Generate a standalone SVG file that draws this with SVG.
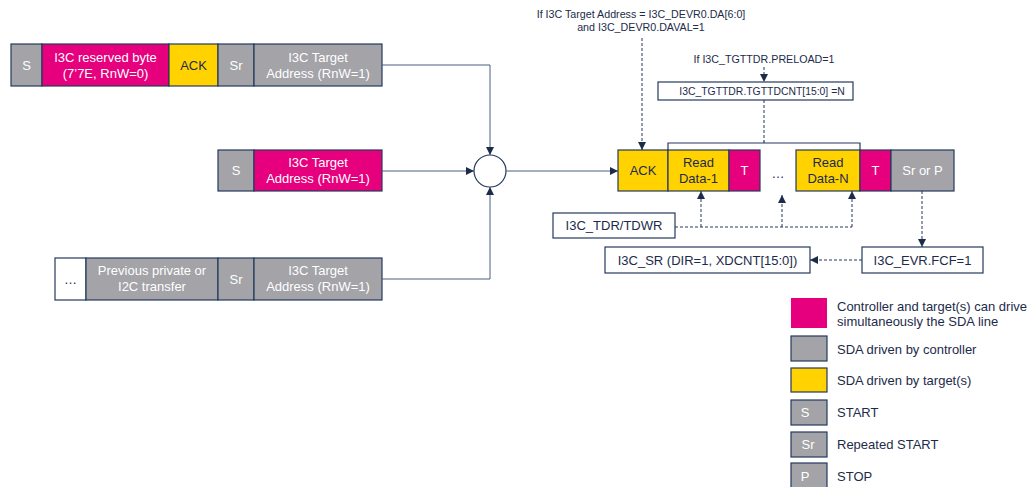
<svg xmlns="http://www.w3.org/2000/svg" width="1031" height="487" viewBox="0 0 1031 487">
  <style>
    .box { stroke: #24395c; stroke-width: 1.2; }
    .mag { fill: #e6007e; }
    .gry { fill: #a3a3a8; }
    .yel { fill: #ffd200; }
    .wht { fill: #ffffff; }
    text { font-family: "Liberation Sans", Arial, sans-serif; }
    .tw { fill: #ffffff; font-size: 13px; text-anchor: middle; }
    .td { fill: #1d2b4a; font-size: 13px; text-anchor: middle; }
    .tn { fill: #1d2b4a; font-size: 10.7px; text-anchor: middle; }
    .tb { fill: #1d2b4a; font-size: 10.4px; text-anchor: middle; }
    .tl { fill: #1d2b4a; font-size: 13px; }
    .line { stroke: #4a5f80; stroke-width: 1; fill: none; }
    .dash { stroke: #24395c; stroke-width: 1; fill: none; stroke-dasharray: 3 2; }
  </style>
  <defs>
    <marker id="arr" viewBox="0 0 10 10" refX="10" refY="5" markerWidth="8" markerHeight="8" markerUnits="userSpaceOnUse" orient="auto">
      <path d="M0,0 L10,5 L0,10 z" fill="#1d2b4a"/>
    </marker>
  </defs>

  <!-- Frame 1: S + reserved byte + ACK + Sr + target address -->
  <g id="frame1">
    <rect class="box gry" x="11" y="44" width="31" height="42"/>
    <rect class="box mag" x="42" y="44" width="127" height="42"/>
    <rect class="box yel" x="169" y="44" width="49" height="42"/>
    <rect class="box gry" x="218" y="44" width="36" height="42"/>
    <rect class="box gry" x="254" y="44" width="128" height="42"/>
    <text class="tw" x="26.5" y="70">S</text>
    <text class="tw" x="105.5" y="62">I3C reserved byte</text>
    <text class="tw" x="105.5" y="78">(7’7E, RnW=0)</text>
    <text class="td" x="193.5" y="70">ACK</text>
    <text class="tw" x="236" y="70">Sr</text>
    <text class="tw" x="318" y="62">I3C Target</text>
    <text class="tw" x="318" y="78">Address (RnW=1)</text>
  </g>

  <!-- Frame 2: S + target address -->
  <g id="frame2">
    <rect class="box gry" x="218" y="150" width="36" height="41"/>
    <rect class="box mag" x="254" y="150" width="128" height="41"/>
    <text class="tw" x="236" y="175">S</text>
    <text class="tw" x="318" y="167">I3C Target</text>
    <text class="tw" x="318" y="183">Address (RnW=1)</text>
  </g>

  <!-- Frame 3: previous transfer + Sr + target address -->
  <g id="frame3">
    <rect class="box wht" x="55" y="258" width="31" height="42"/>
    <rect class="box gry" x="86" y="258" width="132" height="42"/>
    <rect class="box gry" x="218" y="258" width="36" height="42"/>
    <rect class="box gry" x="254" y="258" width="128" height="42"/>
    <text class="td" x="70.5" y="284">…</text>
    <text class="tw" x="152" y="275">Previous private or</text>
    <text class="tw" x="152" y="291">I2C transfer</text>
    <text class="tw" x="236" y="284">Sr</text>
    <text class="tw" x="318" y="275">I3C Target</text>
    <text class="tw" x="318" y="291">Address (RnW=1)</text>
  </g>

  <!-- Merge point -->
  <g id="merge">
    <circle cx="490" cy="171" r="16" fill="#ffffff" stroke="#24395c" stroke-width="1.2"/>
  </g>

  <!-- Read frame -->
  <g id="read-frame">
    <rect class="box yel" x="618" y="150" width="50" height="41"/>
    <rect class="box yel" x="668" y="150" width="61" height="41"/>
    <rect class="box mag" x="729" y="150" width="31" height="41"/>
    <rect class="box yel" x="796" y="150" width="64" height="41"/>
    <rect class="box mag" x="860" y="150" width="31" height="41"/>
    <rect class="box gry" x="891" y="150" width="63" height="41"/>
    <text class="td" x="643" y="175">ACK</text>
    <text class="td" x="698.5" y="167">Read</text>
    <text class="td" x="698.5" y="183">Data-1</text>
    <text class="tw" x="744.5" y="175">T</text>
    <text class="td" x="778" y="178">…</text>
    <text class="td" x="828" y="167">Read</text>
    <text class="td" x="828" y="183">Data-N</text>
    <text class="tw" x="875.5" y="175">T</text>
    <text class="tw" x="922.5" y="175">Sr or P</text>
    <!-- brace over data bytes -->
    <path d="M668,150 V143 H860 V150 M764,143 V140" stroke="#24395c" stroke-width="1.2" fill="none"/>
  </g>

  <!-- Conditions and registers -->
  <g id="cond-address">
    <text class="tn" x="641" y="18">If I3C Target Address = I3C_DEVR0.DA[6:0]</text>
    <text class="tn" x="641" y="31">and I3C_DEVR0.DAVAL=1</text>
  </g>
  <g id="cond-preload">
    <text class="tn" x="764" y="63">If I3C_TGTTDR.PRELOAD=1</text>
  </g>
  <g id="tgttdcnt">
    <rect class="box wht" x="658" y="82" width="195" height="18"/>
    <text class="tb" x="762" y="95">I3C_TGTTDR.TGTTDCNT[15:0] =N</text>
  </g>
  <g id="tdr">
    <rect class="box wht" x="553" y="213" width="122" height="25"/>
    <text class="td" x="614" y="230">I3C_TDR/TDWR</text>
  </g>
  <g id="sr">
    <rect class="box wht" x="605" y="247" width="205" height="26"/>
    <text class="td" x="707.5" y="264.5">I3C_SR (DIR=1, XDCNT[15:0])</text>
  </g>
  <g id="evr">
    <rect class="box wht" x="862" y="247" width="121" height="26"/>
    <text class="td" x="922.5" y="264.5">I3C_EVR.FCF=1</text>
  </g>

  <!-- Connectors -->
  <g id="connectors">
    <path class="line" d="M382,65 H490 V155" marker-end="url(#arr)"/>
    <path class="line" d="M382,171 H474" marker-end="url(#arr)"/>
    <path class="line" d="M382,279 H490 V187" marker-end="url(#arr)"/>
    <path class="line" d="M506,171 H618" marker-end="url(#arr)"/>
    <path class="dash" d="M642,38 V150" marker-end="url(#arr)"/>
    <path class="dash" d="M764,67 V82" marker-end="url(#arr)"/>
    <path class="dash" d="M764,100 V140"/>
    <path class="dash" d="M675,227 H852"/>
    <path class="dash" d="M701,227 V191" marker-end="url(#arr)"/>
    <path class="dash" d="M782,227 V195" marker-end="url(#arr)"/>
    <path class="dash" d="M852,227 V191" marker-end="url(#arr)"/>
    <path class="dash" d="M922,191 V247" marker-end="url(#arr)"/>
    <path class="dash" d="M862,260 H810" marker-end="url(#arr)"/>
  </g>

  <!-- Legend -->
  <g id="legend">
    <rect class="mag" x="791" y="298" width="36" height="30"/>
    <text class="tl" x="837" y="311">Controller and target(s) can drive</text>
    <text class="tl" x="837" y="326">simultaneously the SDA line</text>
    <rect class="box gry" x="791" y="336" width="36" height="25"/>
    <text class="tl" x="837" y="354">SDA driven by controller</text>
    <rect class="box yel" x="791" y="368" width="36" height="24"/>
    <text class="tl" x="837" y="385">SDA driven by target(s)</text>
    <rect class="box gry" x="791" y="400" width="36" height="25"/>
    <text class="tw" x="805" y="417">S</text>
    <text class="tl" x="837" y="417">START</text>
    <rect class="box gry" x="791" y="432" width="36" height="25"/>
    <text class="tw" x="808" y="449">Sr</text>
    <text class="tl" x="837" y="449">Repeated START</text>
    <rect class="box gry" x="791" y="463" width="36" height="30"/>
    <text class="tw" x="805" y="481">P</text>
    <text class="tl" x="837" y="481">STOP</text>
  </g>
</svg>
